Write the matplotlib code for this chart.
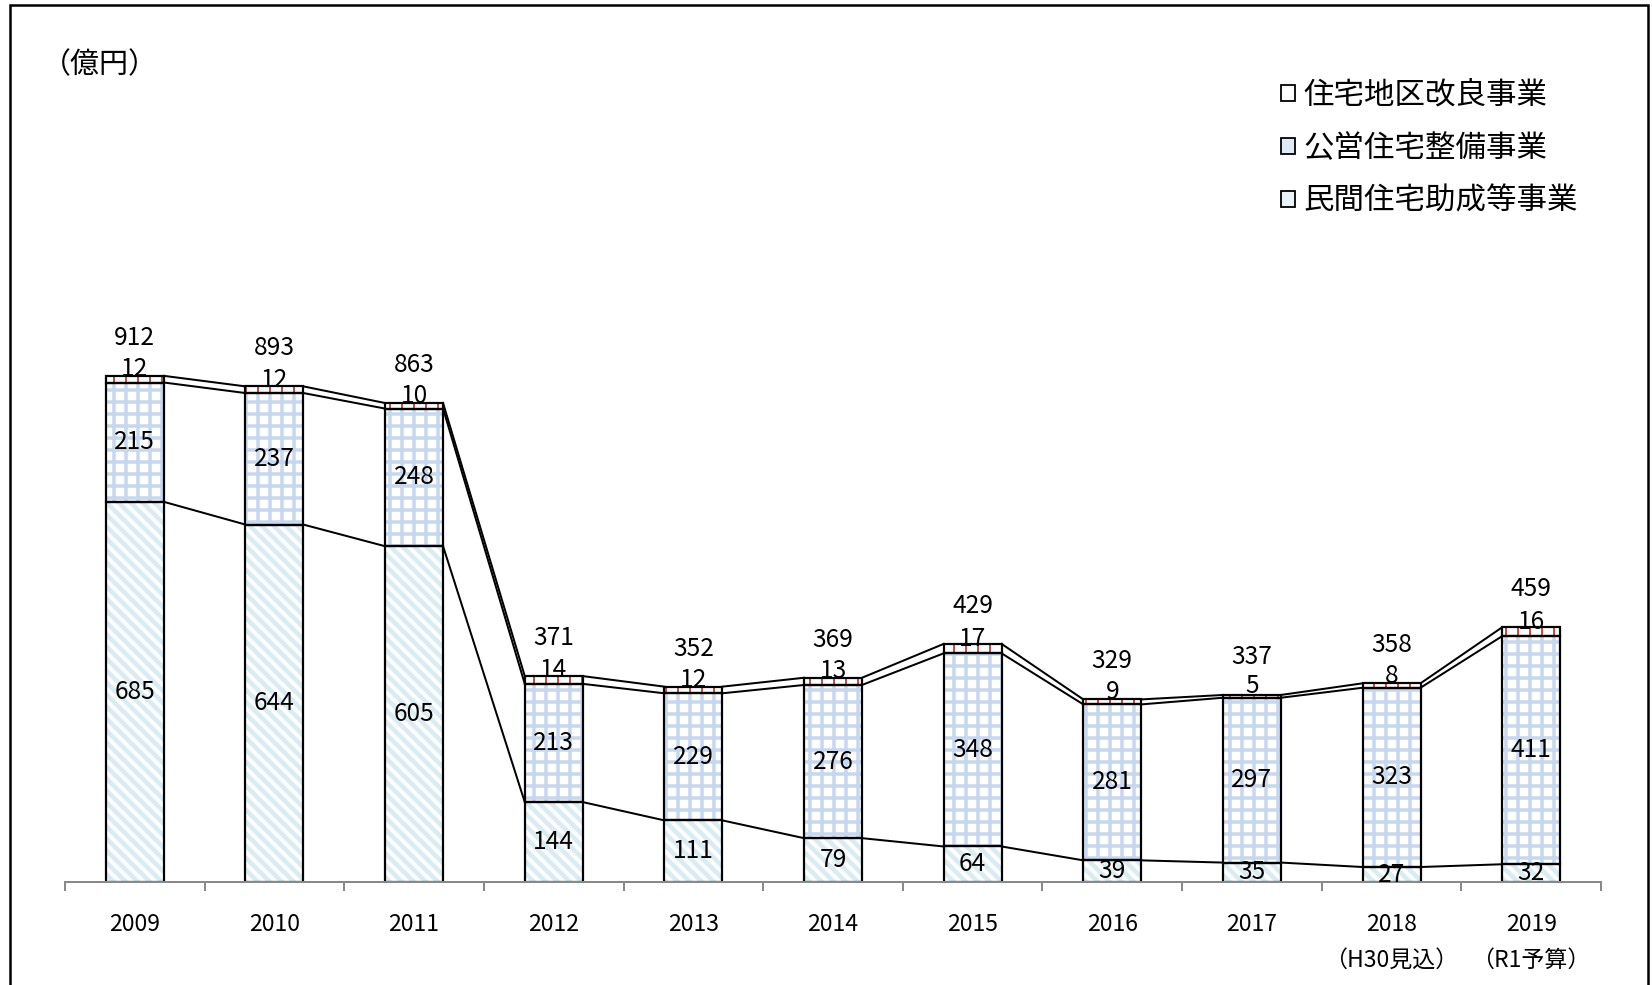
import matplotlib
matplotlib.use('Agg')
import matplotlib.pyplot as plt
from matplotlib.patches import Patch, Rectangle
import numpy as np

plt.rcParams['font.family'] = ['Noto Sans CJK JP', 'DejaVu Sans']

# ---- data ----
years = ['2009', '2010', '2011', '2012', '2013', '2014', '2015', '2016', '2017',
         '2018\n（H30見込）', '2019\n（R1予算）']
private = [685, 644, 605, 144, 111, 79, 64, 39, 35, 27, 32]      # 民間住宅助成等事業
public = [215, 237, 248, 213, 229, 276, 348, 281, 297, 323, 411]  # 公営住宅整備事業
district = [12, 12, 10, 14, 12, 13, 17, 9, 5, 8, 16]              # 住宅地区改良事業
totals = [912, 893, 863, 371, 352, 369, 429, 329, 337, 358, 459]
series_names = ['住宅地区改良事業', '公営住宅整備事業', '民間住宅助成等事業']
unit_label = '（億円）'

W, H, DPI = 1652, 985, 72
fig = plt.figure(figsize=(W / DPI, H / DPI), dpi=DPI)
ax = fig.add_axes([65 / W, 1 - 882 / H, (1601 - 65) / W, 777 / H])

x = np.arange(len(years))
bw = 0.415
p = np.array(private, float)
q = np.array(public, float)
r = np.array(district, float)
c1 = p
c2 = p + q
c3 = p + q + r

def hatched(bottom, height, hatch, color, lw):
    with plt.rc_context({'hatch.linewidth': lw}):
        bars = ax.bar(x, height, bw, bottom=bottom, color='white', edgecolor=color,
                      linewidth=0, hatch=hatch, zorder=2)
        for b in bars:
            if hasattr(b, 'set_hatch_linewidth'):
                b.set_hatch_linewidth(lw)
    ax.bar(x, height, bw, bottom=bottom, fill=False, edgecolor='black',
           linewidth=2.2, zorder=3)

hatched(0, p, '\\\\', '#d8ecf3', 4.5)
hatched(c1, q, '+', '#c6d8ef', 3.5)
hatched(c2, r, '|', '#c0504d', 2.0)

# series lines
for lev in (c1, c2, c3):
    for i in range(len(x) - 1):
        ax.plot([x[i] + bw / 2, x[i + 1] - bw / 2], [lev[i], lev[i + 1]],
                color='black', lw=2, zorder=1)

fs = 24.5
for i in range(len(x)):
    ax.text(x[i], p[i] / 2, str(private[i]), ha='center', va='center', fontsize=fs, zorder=5)
    ax.text(x[i], c1[i] + q[i] / 2, str(public[i]), ha='center', va='center', fontsize=fs, zorder=5)
    ax.annotate(str(district[i]), xy=(x[i], c2[i] + r[i] / 2), xytext=(0, 10),
                textcoords='offset points', ha='center', va='center', fontsize=fs, zorder=5)
    ax.annotate(str(totals[i]), xy=(x[i], c3[i]), xytext=(0, 38),
                textcoords='offset points', ha='center', va='center', fontsize=fs, zorder=5)
    ax.annotate(years[i], xy=(x[i], 0), xycoords=('data', 'axes fraction'),
                xytext=(0, -31), textcoords='offset points', ha='center', va='top',
                fontsize=23, linespacing=1.7)

ax.set_xlim(-0.5, len(x) - 0.5)
ax.set_ylim(0, 1400)
ax.set_xticks(np.arange(-0.5, len(x), 1))
ax.set_xticklabels([])
ax.set_yticks([])
for s in ('left', 'right', 'top'):
    ax.spines[s].set_visible(False)
ax.spines['bottom'].set_color('#898989')
ax.spines['bottom'].set_linewidth(2)
ax.spines['bottom'].set_zorder(4)
ax.tick_params(axis='x', length=9, width=2, color='#898989', direction='out')

fig.text(42 / W, 1 - 65 / H, unit_label, fontsize=29, ha='left', va='center')

handles = [Patch(facecolor='white', edgecolor='black', lw=1.8),
           Patch(facecolor='#dfe9f6', edgecolor='black', lw=1.8),
           Patch(facecolor='#eaf5f9', edgecolor='black', lw=1.8)]
fig.legend(handles, series_names, loc='upper left', bbox_to_anchor=(1281 / W, 1 - 80 / H),
           frameon=False, fontsize=30.5, handlelength=0.45, handleheight=0.45,
           handletextpad=0.3, labelspacing=0.72, borderpad=0, borderaxespad=0)

fig.add_artist(Rectangle((10 / W, -0.05), (1648 - 10) / W, (980 / H) + 0.05,
                         transform=fig.transFigure, fill=False, lw=2.5, edgecolor='black'))

fig.savefig('out.png', dpi=DPI)
